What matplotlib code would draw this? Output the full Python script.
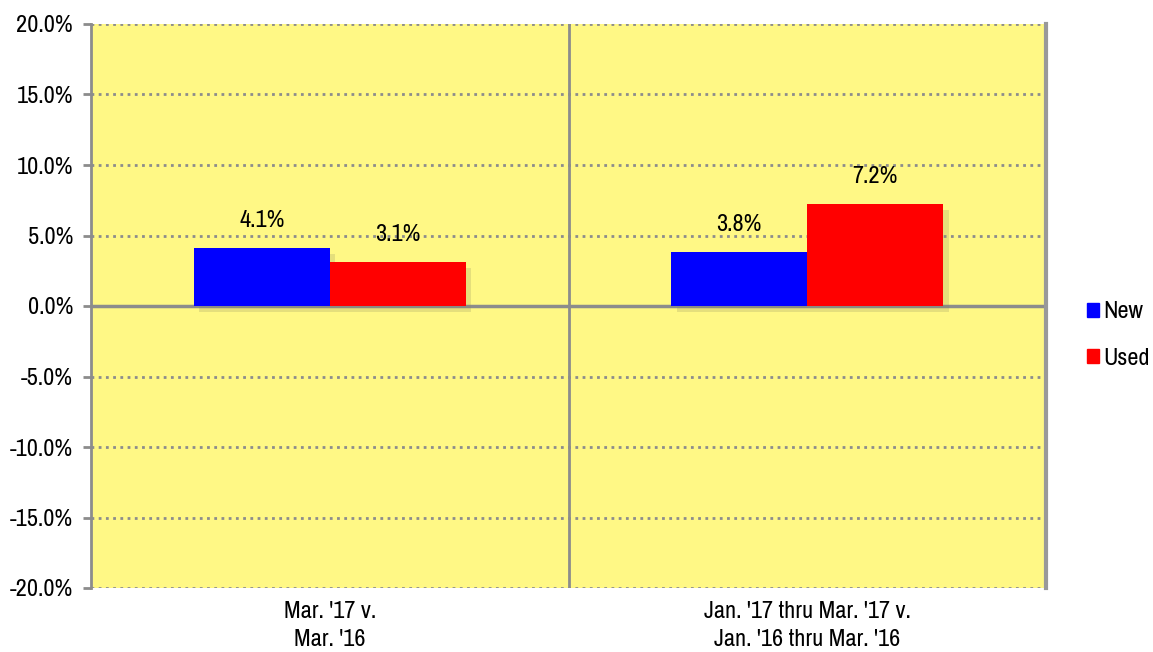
import matplotlib
matplotlib.use("Agg")
import matplotlib.pyplot as plt
import matplotlib.patheffects as pe
from matplotlib.patches import Patch
from matplotlib import font_manager as fm
import numpy as np

# data
categories = ["Mar. '17 v.\nMar. '16", "Jan. '17 thru Mar. '17 v.\nJan. '16 thru Mar. '16"]
new_vals = [4.1, 3.8]
used_vals = [3.1, 7.2]
series_names = ["New", "Used"]
yticks = [-20, -15, -10, -5, 0, 5, 10, 15, 20]

# pick a narrow font, like Arial Narrow in the original
have = set(f.name for f in fm.fontManager.ttflist)
wanted = ['Liberation Sans Narrow', 'Arial Narrow', 'Archivo Narrow', 'PT Sans Narrow',
          'Roboto Condensed', 'Open Sans Condensed', 'IBM Plex Sans Condensed',
          'Fira Sans Condensed', 'Encode Sans Condensed', 'Asap Condensed']
fams = [f for f in wanted if f in have]
plt.rcParams['font.family'] = fams[:1] + ['DejaVu Sans']
FS = 17.5
plt.rcParams['font.size'] = FS

fig = plt.figure(figsize=(11.53, 6.52), dpi=100)
ax = fig.add_axes([91/1153, 1 - 588/652, (1046 - 91)/1153, (588 - 24)/652])
ax.set_facecolor('#FFF885')

x = np.arange(len(categories))
w = 0.285
shadow = [pe.SimplePatchShadow(offset=(4, -4), shadow_rgbFace='#8a8a60', alpha=0.22), pe.Normal()]
b1 = ax.bar(x - w/2, new_vals, w, color='#0000FF', zorder=3, path_effects=shadow)
b2 = ax.bar(x + w/2, used_vals, w, color='#FF0000', zorder=3, path_effects=shadow)

for bars, vals in ((b1, new_vals), (b2, used_vals)):
    for b, v in zip(bars, vals):
        ax.annotate(f"{v:.1f}%", (b.get_x() + b.get_width()/2, v),
                    xytext=(0, 20), textcoords='offset points',
                    ha='center', va='center', fontsize=FS, zorder=4)

ax.set_xlim(-0.5, 1.5)
ax.set_ylim(-20, 20)
ax.set_yticks(yticks)
ax.set_yticklabels([f"{t:.1f}%" for t in yticks])
ax.set_xticks(x)
ax.set_xticklabels(categories, linespacing=1.45)
ax.tick_params(axis='x', length=0, pad=9)
ax.tick_params(axis='y', length=6, width=2, color='#8c8c8c', pad=7)

ax.yaxis.grid(True, linestyle=(0, (1, 1.6)), color='#8c8c8c', linewidth=2)
ax.set_axisbelow(True)
ax.axhline(0, color='#8c8c8c', linewidth=2.5, zorder=2)
ax.axvline(0.5, color='#8c8c8c', linewidth=2, zorder=2)

for s in ['top', 'bottom']:
    ax.spines[s].set_visible(False)
ax.spines['left'].set_color('#8c8c8c')
ax.spines['left'].set_linewidth(2)
ax.spines['right'].set_color('#999999')
ax.spines['right'].set_linewidth(3)

handles = [Patch(color='#0000FF'), Patch(color='#FF0000')]
fig.legend(handles, series_names, loc='center left', bbox_to_anchor=(1087/1153, 1 - 335/652),
           frameon=False, handlelength=0.5, handleheight=0.5, handletextpad=0.15,
           labelspacing=1.05, fontsize=FS, borderpad=0, borderaxespad=0)

fig.savefig('out.png', dpi=100)
